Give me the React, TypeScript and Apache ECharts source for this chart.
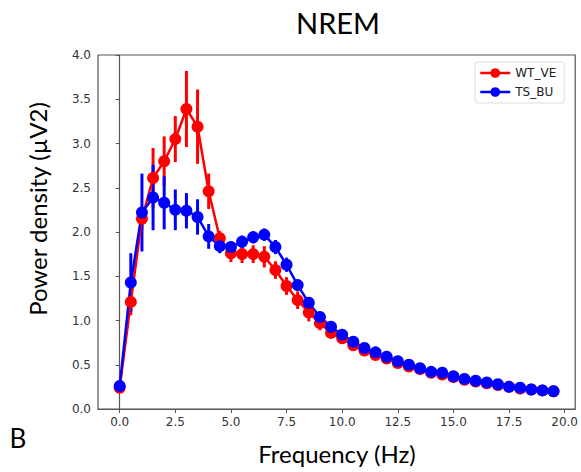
import React, { useEffect, useRef } from "react";
import * as echarts from "echarts";

const freqs = [0, 0.5, 1, 1.5, 2, 2.5, 3, 3.5, 4, 4.5, 5, 5.5, 6, 6.5, 7, 7.5, 8, 8.5, 9, 9.5, 10, 10.5, 11, 11.5, 12, 12.5, 13, 13.5, 14, 14.5, 15, 15.5, 16, 16.5, 17, 17.5, 18, 18.5, 19, 19.5];
const wtVe = [0.24, 1.21, 2.15, 2.61, 2.8, 3.05, 3.39, 3.19, 2.46, 1.93, 1.76, 1.75, 1.75, 1.72, 1.57, 1.39, 1.23, 1.09, 0.97, 0.86, 0.8, 0.72, 0.66, 0.61, 0.57, 0.52, 0.48, 0.45, 0.41, 0.39, 0.36, 0.33, 0.31, 0.29, 0.27, 0.25, 0.23, 0.22, 0.21, 0.2];
const wtErr = [0.03, 0.15, 0.12, 0.34, 0.28, 0.26, 0.43, 0.42, 0.2, 0.08, 0.1, 0.1, 0.1, 0.12, 0.1, 0.1, 0.1, 0.1, 0.08, 0.06, 0.05, 0.05, 0.04, 0.04, 0.04, 0.03, 0.03, 0.03, 0.03, 0.03, 0.03, 0.02, 0.02, 0.02, 0.02, 0.02, 0.02, 0.02, 0.02, 0.02];
const tsBu = [0.26, 1.43, 2.22, 2.39, 2.33, 2.25, 2.24, 2.17, 1.95, 1.84, 1.83, 1.89, 1.94, 1.97, 1.83, 1.63, 1.4, 1.2, 1.04, 0.93, 0.84, 0.76, 0.69, 0.64, 0.59, 0.54, 0.5, 0.46, 0.42, 0.41, 0.37, 0.34, 0.32, 0.3, 0.28, 0.25, 0.24, 0.22, 0.21, 0.2];
const tsErr = [0.03, 0.33, 0.44, 0.37, 0.3, 0.23, 0.2, 0.2, 0.14, 0.08, 0.06, 0.07, 0.07, 0.07, 0.08, 0.08, 0.06, 0.05, 0.04, 0.03, 0.03, 0.03, 0.02, 0.02, 0.02, 0.02, 0.02, 0.02, 0.02, 0.02, 0.02, 0.02, 0.02, 0.02, 0.02, 0.02, 0.02, 0.02, 0.02, 0.02];
const xTicks = [0, 2.5, 5, 7.5, 10, 12.5, 15, 17.5, 20];

const RED = "#ff0000";
const BLUE = "#0000ff";

function errSeries(vals: number[], errs: number[], color: string) {
  return {
    type: "custom",
    name: "err_" + color,
    renderItem: (params: any, api: any) => {
      const x = api.value(0);
      const p1 = api.coord([x, api.value(1)]);
      const p2 = api.coord([x, api.value(2)]);
      return {
        type: "line",
        shape: { x1: p1[0], y1: p1[1], x2: p2[0], y2: p2[1] },
        style: { stroke: color, lineWidth: 3 },
      };
    },
    data: freqs.map((f, i) => [f, vals[i] - errs[i], vals[i] + errs[i]]),
    encode: { x: 0, y: [1, 2] },
    z: 2,
  };
}

function lineSeries(name: string, vals: number[], color: string) {
  return {
    type: "line",
    name,
    data: freqs.map((f, i) => [f, vals[i]]),
    symbol: "circle",
    symbolSize: 12,
    showSymbol: true,
    itemStyle: { color },
    lineStyle: { color, width: 2.5 },
    z: 3,
  };
}

export default function App() {
  const ref = useRef<HTMLDivElement>(null);
  useEffect(() => {
    if (!ref.current) return;
    const chart = echarts.init(ref.current, null, { renderer: "svg" });
    chart.setOption({
      animation: false,
      backgroundColor: "#fff",
      grid: {
        left: 98,
        right: 5,
        top: 55,
        bottom: 63,
        show: true,
        borderColor: "#555",
        borderWidth: 1.2,
        backgroundColor: "transparent",
      },
      legend: {
        data: ["WT_VE", "TS_BU"],
        left: 475,
        top: 62,
        orient: "vertical",
        itemWidth: 30,
        itemHeight: 12,
        itemGap: 7,
        padding: [5, 8, 5, 4],
        borderColor: "#ddd",
        borderWidth: 1,
        borderRadius: 3,
        lineStyle: { width: 2.5 },
        textStyle: { fontFamily: "DejaVu Sans", fontSize: 12, color: "#222" },
      },
      xAxis: {
        type: "value",
        min: -0.975,
        max: 20.475,
        splitLine: { show: false },
        axisLine: { show: true, onZero: false, lineStyle: { color: "#555", width: 1.2 } },
        axisTick: { show: true, inside: false, length: 4, customValues: xTicks, lineStyle: { color: "#555" } },
        axisLabel: {
          customValues: xTicks,
          formatter: (v: number) => v.toFixed(1),
          fontFamily: "DejaVu Sans",
          fontSize: 12,
          color: "#333",
          margin: 7,
        },
      },
      yAxis: {
        type: "value",
        min: 0,
        max: 4,
        interval: 0.5,
        splitLine: { show: false },
        axisLine: { show: true, lineStyle: { color: "#555", width: 1.2 } },
        axisTick: { show: true, inside: false, length: 4, lineStyle: { color: "#555" } },
        axisLabel: {
          formatter: (v: number) => v.toFixed(1),
          fontFamily: "DejaVu Sans",
          fontSize: 12,
          color: "#333",
          margin: 7,
        },
      },
      graphic: [
        {
          type: "text",
          x: 338,
          y: 22,
          style: { text: "NREM", font: "29px Lato", fill: "#000", align: "center", verticalAlign: "middle" },
        },
        {
          type: "text",
          x: 337,
          y: 453,
          style: { text: "Frequency (Hz)", font: "24px Lato", fill: "#000", align: "center", verticalAlign: "middle" },
        },
        {
          type: "text",
          x: 37,
          y: 209,
          rotation: Math.PI / 2,
          style: { text: "Power density (µV2)", font: "24px Lato", fill: "#000", align: "center", verticalAlign: "middle" },
        },
        {
          type: "text",
          x: 18,
          y: 438,
          style: { text: "B", font: "26px Lato", fill: "#000", align: "center", verticalAlign: "middle" },
        },
      ],
      series: [
        errSeries(wtVe, wtErr, RED),
        lineSeries("WT_VE", wtVe, RED),
        errSeries(tsBu, tsErr, BLUE),
        lineSeries("TS_BU", tsBu, BLUE),
      ],
    });
    return () => chart.dispose();
  }, []);
  return <div ref={ref} style={{ position: "fixed", left: 0, top: 0, width: 581, height: 472 }} />;
}
